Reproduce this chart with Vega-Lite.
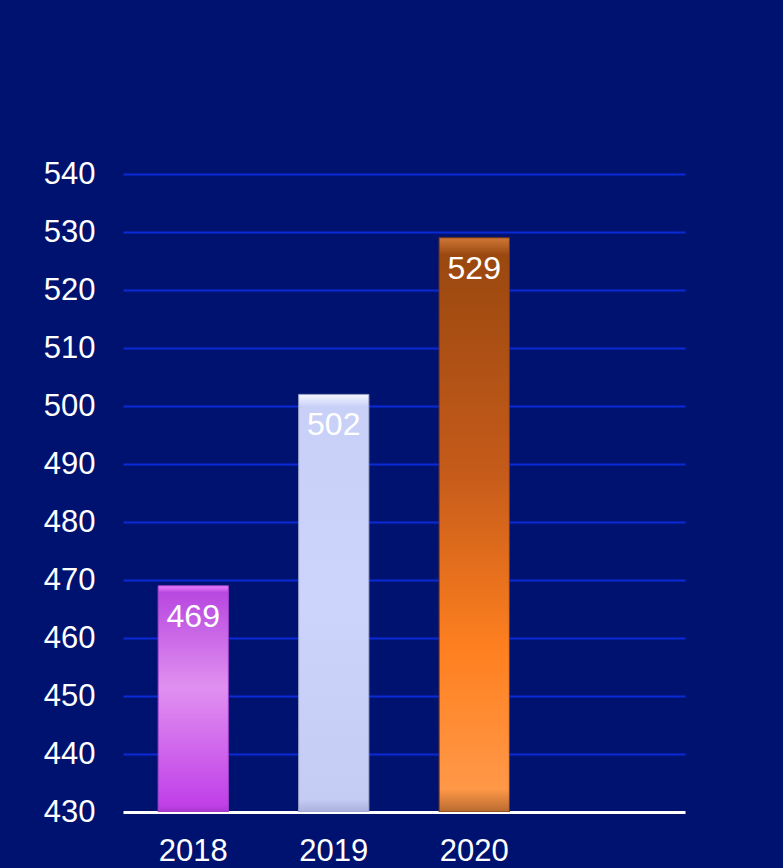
{
  "$schema": "https://vega.github.io/schema/vega-lite/v6.json",
  "autosize": "none",
  "width": 562,
  "height": 638,
  "padding": {"left": 123, "top": 174, "right": 98, "bottom": 56},
  "background": "#001270",
  "config": {
    "view": {"stroke": null},
    "font": "Liberation Sans"
  },
  "data": {"values": [
    {"year": "2018", "value": 469},
    {"year": "2019", "value": 502},
    {"year": "2020", "value": 529}
  ]},
  "encoding": {
    "x": {"field": "year", "type": "nominal",
      "scale": {"domain": ["2018", "2019", "2020", " "], "paddingInner": 0.5, "paddingOuter": 0.25},
      "axis": {"title": null, "labelAngle": 0, "labelColor": "white", "labelFontSize": 31, "labelPadding": 24, "ticks": false, "domainColor": "white", "domainWidth": 3, "grid": false}},
    "y": {"field": "value", "type": "quantitative",
      "scale": {"domain": [430, 540], "nice": false, "zero": false},
      "axis": {"title": null, "values": [430, 440, 450, 460, 470, 480, 490, 500, 510, 520, 530, 540], "labelColor": "white", "labelFontSize": 31, "labelPadding": 28, "ticks": false, "domain": false, "gridColor": "#0a2ad8", "gridWidth": 2}}
  },
  "layer": [
    {
      "transform": [{"filter": "datum.year == '2018'"}],
      "mark": {"type": "bar", "clip": true, "stroke": "#a040c8", "strokeWidth": 1,
        "color": {"gradient": "linear", "x1": 0, "y1": 0, "x2": 0, "y2": 1,
          "stops": [{"offset": 0, "color": "#f080ff"}, {"offset": 0.03, "color": "#b848e0"}, {"offset": 0.45, "color": "#e090f0"}, {"offset": 0.97, "color": "#c040e8"}, {"offset": 1, "color": "#a838d0"}]}},
      "encoding": {"y2": {"datum": 430}}
    },
    {
      "transform": [{"filter": "datum.year == '2019'"}],
      "mark": {"type": "bar", "clip": true, "stroke": "#9aa0c8", "strokeWidth": 1,
        "color": {"gradient": "linear", "x1": 0, "y1": 0, "x2": 0, "y2": 1,
          "stops": [{"offset": 0, "color": "#f4f6ff"}, {"offset": 0.03, "color": "#c8d0f8"}, {"offset": 0.5, "color": "#ccd4fc"}, {"offset": 0.97, "color": "#c4ccf4"}, {"offset": 1, "color": "#aab0dc"}]}},
      "encoding": {"y2": {"datum": 430}}
    },
    {
      "transform": [{"filter": "datum.year == '2020'"}],
      "mark": {"type": "bar", "clip": true, "stroke": "#7a3a10", "strokeWidth": 1,
        "color": {"gradient": "linear", "x1": 0, "y1": 0, "x2": 0, "y2": 1,
          "stops": [{"offset": 0, "color": "#d07838"}, {"offset": 0.03, "color": "#9a4810"}, {"offset": 0.4, "color": "#c45a1a"}, {"offset": 0.72, "color": "#ff8020"}, {"offset": 0.96, "color": "#ff9848"}, {"offset": 1, "color": "#b86a30"}]}},
      "encoding": {"y2": {"datum": 430}}
    },
    {
      "mark": {"type": "text", "color": "white", "fontSize": 32, "baseline": "middle", "dy": 31},
      "encoding": {"text": {"field": "value", "type": "quantitative"}}
    }
  ]
}
